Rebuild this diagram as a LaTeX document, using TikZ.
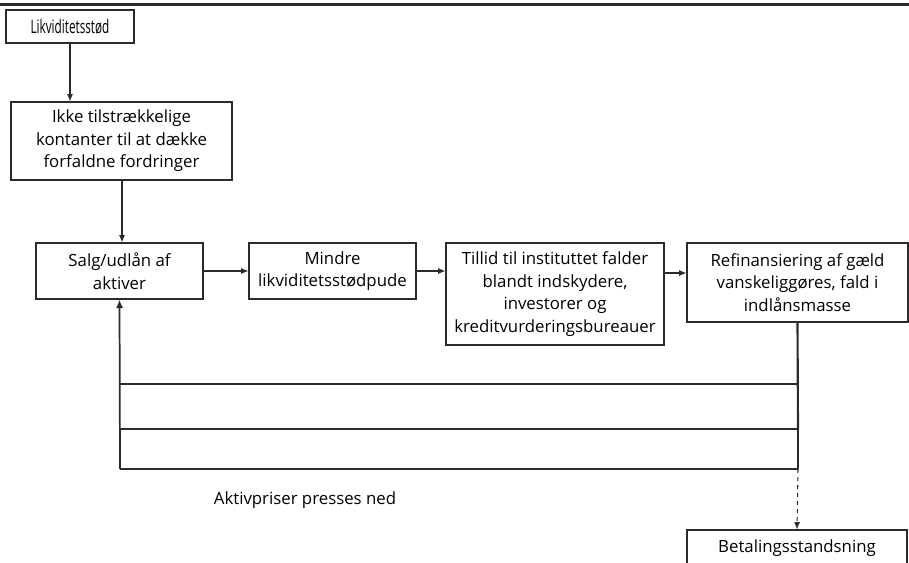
\documentclass[tikz,border=0pt]{standalone}
\usepackage{fontspec}
\setmainfont{Open Sans}
\usepackage{graphicx}
\usetikzlibrary{arrows.meta,positioning,calc}

\definecolor{linegray}{HTML}{2B2B2B}

\tikzset{
  box/.style={draw=linegray, line width=0.8pt, align=center, inner sep=2pt,
    font=\fontsize{12.6}{16.9}\selectfont, text=black},
  flow/.style={draw=linegray, line width=0.8pt, -{Latex[length=5.5pt,width=4.5pt]}},
  loopline/.style={draw=linegray, line width=0.8pt},
}

\begin{document}
\begin{tikzpicture}[x=0.75pt,y=-0.75pt]
        \useasboundingbox (0,0) rectangle (909,563);
        \clip (0,0) rectangle (909,563);
        \draw[linegray, line width=1.8pt] (0,4.5) -- (909,4.5);

        % boxes
        \node[box, minimum width=128*0.75pt, minimum height=33*0.75pt] (stoed) at (70,26.5)
            {\fontsize{14}{16}\selectfont\scalebox{0.63}[1]{Likviditetsstød}};
        \node[box, minimum width=221*0.75pt, minimum height=78*0.75pt] (kont) at (121.5,141)
            {Ikke tilstrækkelige\\kontanter til at dække\\forfaldne fordringer};
        \node[box, minimum width=167*0.75pt, minimum height=56*0.75pt] (salg) at (119.5,271)
            {Salg/udlån af\\aktiver};
        \node[box, minimum width=167*0.75pt, minimum height=56*0.75pt] (pude) at (332.5,271)
            {Mindre\\likviditetsstødpude};
        \node[box, minimum width=218*0.75pt, minimum height=102*0.75pt] (tillid) at (555,294)
            {Tillid til instituttet falder\\blandt indskydere,\\investorer og\\kreditvurderingsbureauer};
        \node[box, minimum width=221*0.75pt, minimum height=79*0.75pt] (refin) at (797.5,282.5)
            {Refinansiering af gæld\\vanskeliggøres, fald i\\indlånsmasse};
        \node[box, minimum width=220*0.75pt, minimum height=36*0.75pt] (betal) at (797,548)
            {Betalingsstandsning};
        \node[text=black, font=\fontsize{12.6}{16.9}\selectfont] (aktiv) at (305,500)
            {Aktivpriser presses ned};

        % feedback corners
        \coordinate (r1) at (798,384);
        \coordinate (r2) at (798,429);
        \coordinate (r3) at (798,469);
        \coordinate (l1) at (120,384);
        \coordinate (l2) at (120,429);
        \coordinate (l3) at (120,469);
        \coordinate (k2) at ($(kont.south)+(0.5,0)$);
        \coordinate (t2) at ($(tillid.east |- refin.east)+(0,-9.5)$);

        % arrows
        \draw[flow] (stoed.south) -- (stoed.south |- kont.north);
        \draw[flow] (k2) -- (k2 |- salg.north);
        \draw[flow] (salg.east) -- (pude.west);
        \draw[flow] (pude.east) -- (tillid.west |- pude.east);
        \draw[flow] (t2) -- (t2 -| refin.west);

        % loops
        \draw[linegray, line width=1.6pt] (refin.south) -- (r2);
        \draw[loopline] (r2) -- (r3);
        \draw[loopline] (r1) -- (l1);
        \draw[loopline] (r2) -- (l2);
        \draw[loopline] (r3) -- (l3);
        \draw[flow, line width=1.3pt, -{Latex[length=6.5pt,width=5.5pt]}] (l3) -- (salg.south);
        \draw[flow, dashed] (r3) -- (betal.north);
\end{tikzpicture}
\end{document}
